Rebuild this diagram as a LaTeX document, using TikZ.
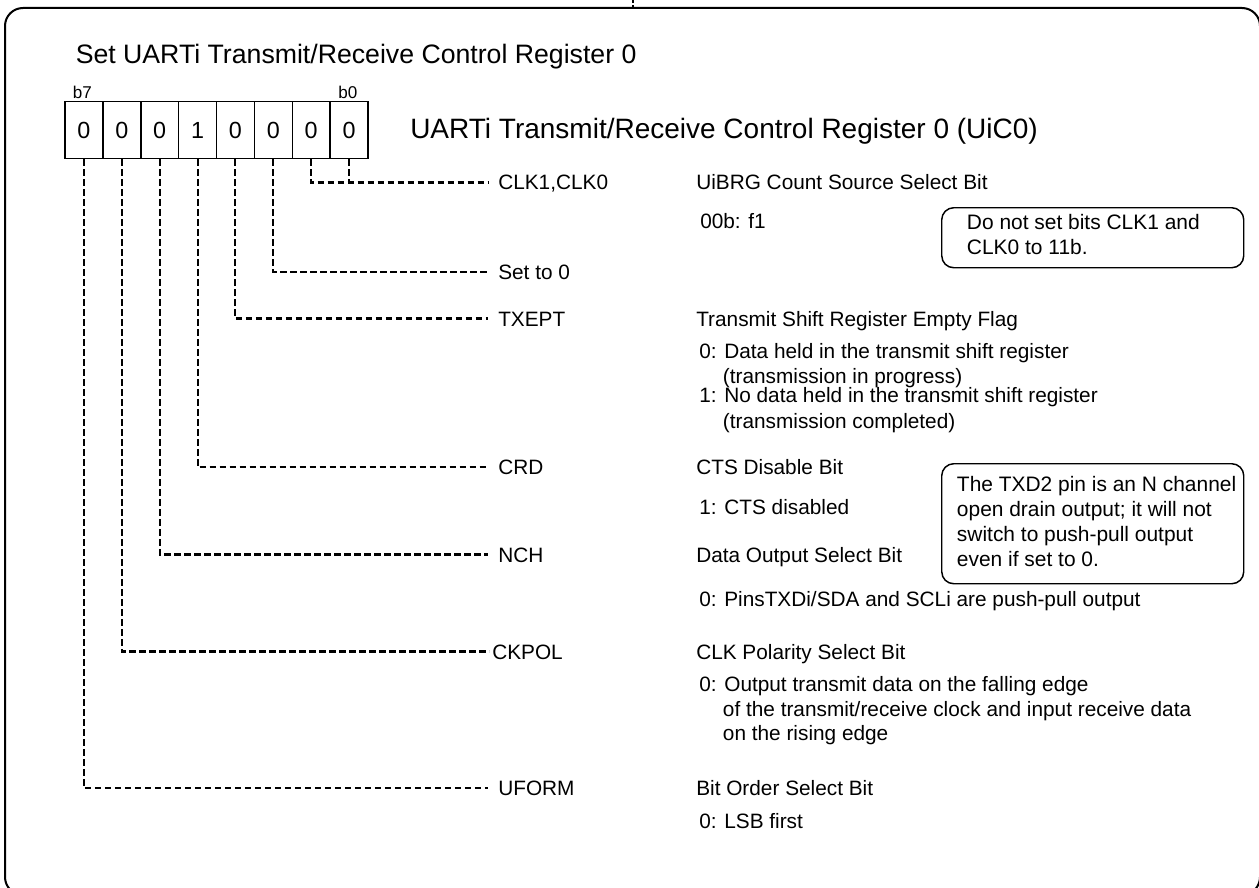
\documentclass[tikz,border=0pt]{standalone}
\usepackage{fontspec}
\setmainfont{Liberation Sans}
\begin{document}
\begin{tikzpicture}[x=0.75pt,y=-0.75pt,
  dashline/.style={line width=1.6pt, dash pattern=on 4.9pt off 2.6pt},
  bitbox/.style={draw, line width=1.1pt, minimum width=28.4pt, minimum height=42.5pt, inner sep=0pt, font=\fontsize{17.5}{21}\selectfont},
  lbl/.style={anchor=base west, inner sep=0pt, font=\fontsize{15.6}{19}\selectfont},
  small/.style={anchor=base west, inner sep=0pt, font=\fontsize{12.8}{15}\selectfont},
  notebox/.style={draw, line width=1.1pt, rounded corners=9pt, anchor=north west, inner sep=0pt},
  notetxt/.style={anchor=base west, inner sep=0pt, font=\fontsize{15.7}{19}\selectfont},
  big/.style={anchor=base west, inner sep=0pt, font=\fontsize{20}{24}\selectfont},
  bigger/.style={anchor=base west, inner sep=0pt, font=\fontsize{21}{25}\selectfont}]
\useasboundingbox (0,0) rectangle (1259,888);
\clip (0,0) rectangle (1259,888);
\fill[white] (0,0) rectangle (1259,888);
% outer frame
\draw[line width=1.5pt, rounded corners=13.5pt] (5,8) rectangle (1260,895);
\draw[line width=1.2pt, dash pattern=on 2pt off 2pt] (633,0) -- (633,7);
% titles
\node[big] (title) at (75.5,63.3) {Set UARTi Transmit/Receive Control Register 0};
\node[bigger] (reg) at (410,139) {UARTi Transmit/Receive Control Register 0 (UiC0)};
% bit boxes
\node[bitbox] (b7) at (83.9,130) {0};
\node[bitbox] (b6) at (121.8,130) {0};
\node[bitbox] (b5) at (159.7,130) {0};
\node[bitbox] (b4) at (197.6,130) {1};
\node[bitbox] (b3) at (235.4,130) {0};
\node[bitbox] (b2) at (273.3,130) {0};
\node[bitbox] (b1) at (311.2,130) {0};
\node[bitbox] (b0) at (349.1,130) {0};
\node[small] (lb7) at (72.7,99) {b7};
\node[small] (lb0) at (338,99) {b0};
% bit names
\node[lbl] (clk) at (498,190) {CLK1,CLK0};
\node[lbl] (set0) at (498,279.5) {Set to 0};
\node[lbl] (txept) at (498,326) {TXEPT};
\node[lbl] (crd) at (498,474.5) {CRD};
\node[lbl] (nch) at (498,562) {NCH};
\node[lbl] (ckpol) at (492,659) {CKPOL};
\node[lbl] (uform) at (498,795.5) {UFORM};
% connectors
\coordinate (clkend) at ([xshift=-7.5pt,yshift=5.6pt]clk.base west);
\draw[dashline] (b1.south) |- (clkend);
\draw[dashline] (b0.south) -- (b0.south |- clkend);
\draw[dashline] (b2.south) |- ([xshift=-7.5pt,yshift=5.6pt]set0.base west);
\draw[dashline] (b3.south) |- ([xshift=-7.5pt,yshift=5.6pt]txept.base west);
\draw[dashline] (b4.south) |- ([xshift=-7.5pt,yshift=5.6pt]crd.base west);
\draw[dashline] (b5.south) |- ([xshift=-7.5pt,yshift=5.6pt]nch.base west);
\draw[dashline] (b6.south) |- ([xshift=-2pt,yshift=5.6pt]ckpol.base west);
\draw[dashline] (b7.south) |- ([xshift=-7.5pt,yshift=5.6pt]uform.base west);
% descriptions
\node[lbl] (h0) at (696,190) {UiBRG Count Source Select Bit};
\node[lbl] (v0) at (700,228) {00b: f1};
\node[lbl] (h2) at (696,326) {Transmit Shift Register Empty Flag};
\node[lbl] (v2a) at (699,358) {0: Data held in the transmit shift register};
\node[lbl] (v2b) at (722.7,383) {(transmission in progress)};
\node[lbl] (v2c) at (699,402.7) {1: No data held in the transmit shift register};
\node[lbl] (v2d) at (722.7,428) {(transmission completed)};
\node[lbl] (h4) at (696,474.5) {CTS Disable Bit};
\node[lbl] (v4) at (699,514.5) {1: CTS disabled};
\node[lbl] (h5) at (696,562) {Data Output Select Bit};
\node[lbl] (v5) at (699,606.7) {0: PinsTXDi/SDA and SCLi are push-pull output};
\node[lbl] (h6) at (696,659) {CLK Polarity Select Bit};
\node[lbl] (v6a) at (699,691) {0: Output transmit data on the falling edge};
\node[lbl] (v6b) at (722.7,716) {of the transmit/receive clock and input receive data};
\node[lbl] (v6c) at (722.7,740) {on the rising edge};
\node[lbl] (h7) at (696,795.5) {Bit Order Select Bit};
\node[lbl] (v7) at (699,828.5) {0: LSB first};
% notes
\node[notebox, minimum width=226.5pt, minimum height=45pt] (n1) at (941,207) {};
\node[notetxt] (n1a) at (966.7,229) {Do not set bits CLK1 and};
\node[notetxt] (n1b) at (966.7,254) {CLK0 to 11b.};
\node[notebox, minimum width=226.5pt, minimum height=90pt] (n2) at (941,463) {};
\node[notetxt] (n2a) at (956.7,491.7) {The TXD2 pin is an N channel};
\node[notetxt] (n2b) at (956.7,516.7) {open drain output; it will not};
\node[notetxt] (n2c) at (956.7,541.7) {switch to push-pull output};
\node[notetxt] (n2d) at (956.7,566.7) {even if set to 0.};
\end{tikzpicture}
\end{document}
